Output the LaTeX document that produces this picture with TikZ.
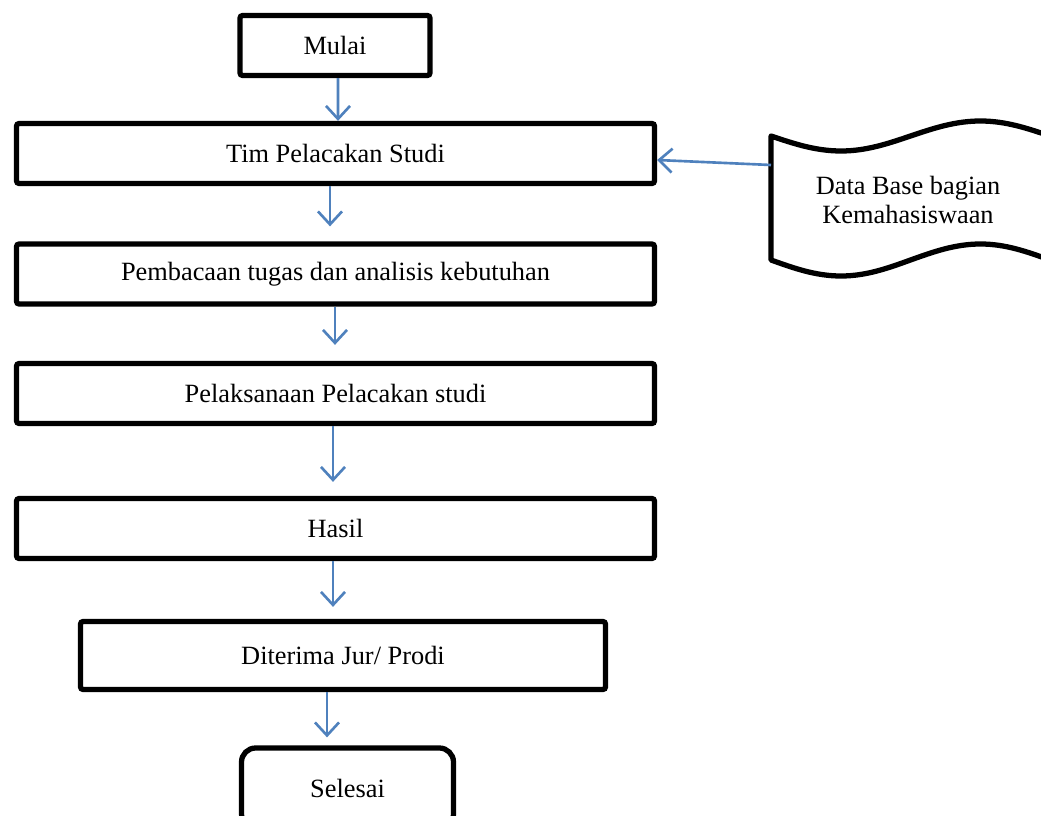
\documentclass[tikz,border=0pt]{standalone}
\usepackage{fontspec}
\setmainfont{Liberation Serif}
\usetikzlibrary{arrows.meta}
\definecolor{flowblue}{HTML}{4F81BD}

\begin{document}
\begin{tikzpicture}[auto,
    box/.style={draw, line width=3pt, rounded corners=1.5pt, inner sep=0pt,
      minimum height=1.2cm, font=\fontsize{15}{17}\selectfont},
    wide/.style={box, minimum width=12.76cm},
    flow/.style={-{Straight Barb[length=2.6mm,width=4.8mm]}, draw=flowblue, line width=1.5pt}]
    \useasboundingbox (0,0) rectangle (20.82,16.3);
    \node[box, minimum width=3.8cm] (mulai) at (6.7, 15.39) {Mulai};
    \node[wide] (tim) at (6.71, 13.23) {Tim Pelacakan Studi};
    \node[wide] (baca) at (6.71, 10.82) {Pembacaan tugas dan analisis kebutuhan};
    \node[wide] (plk) at (6.71, 8.43) {Pelaksanaan Pelacakan studi};
    \node[wide] (hasil) at (6.71, 5.73) {Hasil};
    \node[box, minimum width=10.5cm, minimum height=1.36cm] (terima) at (6.86, 3.19) {Diterima Jur/ Prodi};
    \node[box, minimum width=4.24cm, minimum height=1.6cm, rounded corners=8pt] (selesai) at (6.95, 0.54) {Selesai};
    % data base (tape)
    \begin{scope}
      \clip (0,0) rectangle (20.82,16.3);
      \draw[line width=3pt, line join=round] (15.42,13.58) sin (16.82,13.28) cos (18.21,13.58)
        sin (19.61,13.88) cos (21.0,13.58) -- (21.0,11.1) sin (19.61,11.42) cos (18.21,11.1)
        sin (16.82,10.78) cos (15.42,11.1) -- cycle;
    \end{scope}
    \node[align=center, font=\fontsize{15}{17}\selectfont] (db) at (18.16, 12.3) {Data Base bagian\\Kemahasiswaan};
    \coordinate (dbin) at (15.42, 13.0);
    \draw [flow] ([xshift=0.06cm]mulai.south) to ([xshift=0.05cm]tim.north);
    \draw [flow, shorten >=0.3cm] ([xshift=-0.11cm]tim.south) to ([xshift=-0.11cm]baca.north);
    \draw [flow, shorten >=0.32cm] ([xshift=-0.01cm]baca.south) to ([xshift=-0.01cm]plk.north);
    \draw [flow, shorten >=0.28cm] ([xshift=-0.05cm]plk.south) to ([xshift=-0.05cm]hasil.north);
    \draw [flow, shorten >=0.24cm] ([xshift=-0.05cm]hasil.south) to ([xshift=-0.2cm]terima.north);
    \draw [flow, shorten >=0.16cm] ([xshift=-0.32cm]terima.south) to ([xshift=-0.41cm]selesai.north);
    \draw [flow] (dbin) to ([yshift=-0.13cm]tim.east);
  \end{tikzpicture}
\end{document}
